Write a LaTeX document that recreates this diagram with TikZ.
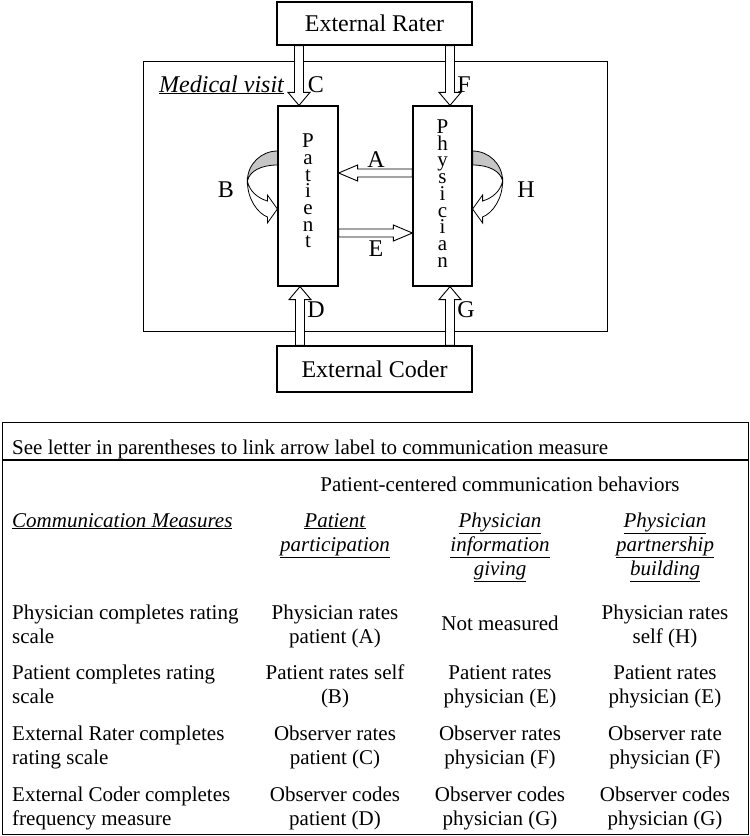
\documentclass[tikz,border=0pt]{standalone}
\usepackage{fontspec}
\setmainfont{Liberation Serif}
\usetikzlibrary{calc}
\newcommand{\diagfont}{\fontsize{24}{28}\selectfont}
\newcommand{\tabfont}{\fontsize{21}{24}\selectfont}
\newcommand{\spellfont}{\fontsize{21}{16.7}\selectfont}
\newcommand{\uit}[1]{\underline{\textit{#1}}}
% block arrow: from, to, half shaft, half head, head length
\newcommand{\blockarrow}[5]{%
  \path[draw, fill=white, line width=0.9pt] let \p1=($(#2)-(#1)$), \n1={veclen(\x1,\y1)}, \n2={atan2(\y1,\x1)} in
    [shift={(#1)}, rotate=\n2] (0pt,-#3pt) -- ({\n1-#5pt},-#3pt) -- ({\n1-#5pt},-#4pt) -- (\n1,0pt)
    -- ({\n1-#5pt},#4pt) -- ({\n1-#5pt},#3pt) -- (0pt,#3pt) -- cycle;}
\tikzset{
  box/.style={draw, line width=1.2pt, fill=white, font=\diagfont, inner sep=0pt},
  actor/.style={draw, line width=1.2pt, fill=white, minimum height=180pt, inner sep=0pt},
  spell/.style={align=center, font=\spellfont, inner sep=0pt},
  frame/.style={draw, line width=0.9pt, minimum width=464pt, minimum height=270pt, inner sep=0pt},
  lbl/.style={font=\diagfont, inner sep=0pt},
  tabbox/.style={draw, line width=1.2pt, minimum width=746pt, inner sep=0pt, anchor=north west},
  cell/.style={font=\tabfont, align=center, anchor=base, inner sep=0pt},
  rowhead/.style={font=\tabfont, align=left, anchor=base west, inner sep=0pt},
  selfloop/.pic={
    \filldraw[fill=gray!45, line width=0.8pt] (0,0) .. controls (-16,0) and (-30,13) .. (-30,30) .. controls (-28,20) and (-16,14) .. (0,14) -- cycle;
    \filldraw[fill=white, line width=0.8pt] (-30,30) .. controls (-30,48) and (-20,62) .. (-10,66) -- (-10,72) -- (0,58) -- (-10,44) -- (-10,50) .. controls (-20,47) and (-28,40) .. (-30,30) -- cycle;
  }
}
\begin{document}
\begin{tikzpicture}[x=1pt, y=-1pt]
  \useasboundingbox (0,0) rectangle (750,836);
  \node[frame] (visit) at (375,196) {};
  \node[lbl, anchor=base west] (visitlbl) at (159,92) {\uit{Medical visit}};
  \node[box, minimum width=195pt, minimum height=43pt] (rater) at (374.5,23.5) {External Rater};
  \node[box, minimum width=195pt, minimum height=46pt] (coder) at (374.5,369) {External Coder};
  \node[actor, minimum width=60pt] (patient) at (308,196) {};
  \node[actor, minimum width=59pt] (physician) at (442.5,196) {};
  \node[spell] (patienttxt) at ([yshift=5pt]patient.center) {P\\a\\t\\i\\e\\n\\t};
  \node[spell] (physiciantxt) at ([yshift=2.5pt]physician.center) {P\\h\\y\\s\\i\\c\\i\\a\\n};
  \coordinate (cC) at ($(patient.north)+(-9,0)$);
  \coordinate (cF) at ($(physician.north)+(7.5,0)$);
  \coordinate (cD) at ($(patient.south)+(-8,0)$);
  \coordinate (cG) at ($(physician.south)+(7.5,0)$);
  \coordinate (cA) at ($(physician.west)+(0,-23)$);
  \coordinate (cE) at ($(patient.east)+(0,37)$);
  \blockarrow{rater.south -| cC}{cC}{4.5}{11}{13}
  \blockarrow{rater.south -| cF}{cF}{4.5}{11}{13}
  \blockarrow{coder.north -| cD}{cD}{4.5}{11}{13}
  \blockarrow{coder.north -| cG}{cG}{4.5}{11}{13}
  \blockarrow{cA}{patient.east |- cA}{4}{8}{19}
  \blockarrow{cE}{physician.west |- cE}{4}{8}{19}
  \pic at ($(patient.west)+(0,-45)$) {selfloop};
  \pic[xscale=-1] at ($(physician.east)+(0,-45)$) {selfloop};
  \node[lbl] (labA) at (376,160) {A};
  \node[lbl] (labE) at (376,249) {E};
  \node[lbl] (labC) at (316,85) {C};
  \node[lbl] (labF) at (464,85) {F};
  \node[lbl] (labD) at (316,310) {D};
  \node[lbl] (labG) at (466,310) {G};
  \node[lbl] (labB) at (226,190) {B};
  \node[lbl] (labH) at (526,190) {H};
  \node[tabbox, minimum height=37pt] (note) at (2,422) {};
  \node[tabbox, minimum height=374pt] (tbl) at (note.south west) {};
  \node[rowhead] (notetxt) at (12,454) {See letter in parentheses to link arrow label to communication measure};
  \node[cell] (behav) at (500,491) {Patient-centered communication behaviors};
  \node[rowhead] (hmeas) at (12,527) {\uit{Communication Measures}};
  \node[cell] (hpart) at (335,551) {\uit{Patient}\\\uit{participation}};
  \node[cell] (hinfo) at (500,575) {\uit{Physician}\\\uit{information}\\\uit{giving}};
  \node[cell] (hbuild) at (665,575) {\uit{Physician}\\\uit{partnership}\\\uit{building}};
  \node[rowhead] (r1) at (12,643) {Physician completes rating\\scale};
  \node[cell] (r1a) at (335,643) {Physician rates\\patient (A)};
  \node[cell] (r1b) at (500,630) {Not measured};
  \node[cell] (r1c) at (665,643) {Physician rates\\self (H)};
  \node[rowhead] (r2) at (12,703) {Patient completes rating\\scale};
  \node[cell] (r2a) at (335,703) {Patient rates self\\(B)};
  \node[cell] (r2b) at (500,703) {Patient rates\\physician (E)};
  \node[cell] (r2c) at (665,703) {Patient rates\\physician (E)};
  \node[rowhead] (r3) at (12,764) {External Rater completes\\rating scale};
  \node[cell] (r3a) at (335,764) {Observer rates\\patient (C)};
  \node[cell] (r3b) at (500,764) {Observer rates\\physician (F)};
  \node[cell] (r3c) at (665,764) {Observer rate\\physician (F)};
  \node[rowhead] (r4) at (12,825) {External Coder completes\\frequency measure};
  \node[cell] (r4a) at (335,825) {Observer codes\\patient (D)};
  \node[cell] (r4b) at (500,825) {Observer codes\\physician (G)};
  \node[cell] (r4c) at (665,825) {Observer codes\\physician (G)};
\end{tikzpicture}
\end{document}
